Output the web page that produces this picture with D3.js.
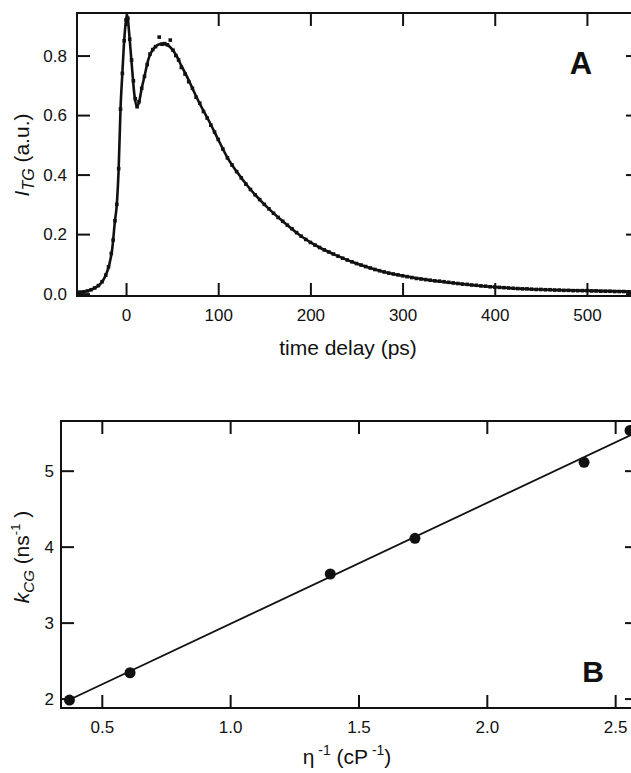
<!DOCTYPE html>
<html>
<head>
<meta charset="utf-8">
<script src="https://cdn.jsdelivr.net/npm/d3@7"></script>
<style>
  body { margin: 0; background: #fff; }
  svg { font-family: "Liberation Sans", Arial, Helvetica, sans-serif; }
  .tick text { font-size: 17px; fill: #111; }
  .tick line { stroke: #111; stroke-width: 2px; }
</style>
</head>
<body>
<svg width="631" height="773"></svg>
<script>
// panel A: transient grating signal vs time delay
var tData = [-50,-46,-42,-38,-34,-30,-26,-22,-19,-16,-14,-12,-10,-8,-6,-4,-2,0,2,4,
  6,8,10,12,14,17,20,23,26,29,32,36,39,42,45,48,51,54,57,60,
  64,68,72,76,80,84,88,92,96,100,
  105,110,115,120,125,130,135,140,145,150,155,160,165,170,175,180,185,190,195,200,
  205,210,215,220,225,230,235,240,245,250,255,260,265,270,275,280,285,290,295,300,
  305,310,315,320,325,330,335,340,345,350,355,360,365,370,375,380,385,390,395,400,
  405,410,415,420,425,430,435,440,445,450,455,460,465,470,475,480,485,490,495,500,
  505,510,515,520,525,530,535,540,545,550,555];
var iData = [0.005,0.006,0.009,0.013,0.019,0.027,0.04,0.062,0.09,0.135,0.18,0.245,0.30,0.42,0.62,0.74,0.85,0.92,0.925,0.855,
  0.785,0.715,0.655,0.628,0.645,0.69,0.73,0.77,0.805,0.82,0.83,0.862,0.838,0.84,0.836,0.852,0.818,0.80,0.785,0.76,
  0.738,0.712,0.69,0.66,0.64,0.612,0.59,0.566,0.543,0.518,
  0.486,0.456,0.432,0.41,0.389,0.368,0.35,0.332,0.316,0.30,0.285,0.27,0.256,0.243,0.23,0.218,0.205,0.193,0.182,0.172,
  0.163,0.155,0.147,0.14,0.133,0.126,0.119,0.113,0.107,0.101,0.096,0.091,0.086,0.081,0.077,0.073,0.069,0.066,0.063,0.06,
  0.057,0.054,0.051,0.049,0.047,0.045,0.043,0.042,0.04,0.038,0.036,0.034,0.032,0.031,0.029,0.028,0.026,0.025,0.023,0.022,
  0.021,0.02,0.019,0.018,0.017,0.016,0.016,0.015,0.014,0.014,0.013,0.013,0.012,0.012,0.011,0.011,0.01,0.01,0.01,0.01,
  0.009,0.009,0.008,0.008,0.008,0.007,0.007,0.007,0.006,0.006,0.006];

// fitted curve for panel A
var tFit = [-53,-46,-40,-34,-28,-22,-18,-15,-12,-10,-8,-6,-4,-2,0,1.5,3,5,7,9,
  11.5,14,17,20,24,28,32,36,40,44,48,52,56,60,66,72,80,90,100,110,
  120,135,150,170,190,210,230,250,275,300,330,360,400,450,500,556];
var iFit = [0.004,0.006,0.01,0.019,0.032,0.062,0.1,0.15,0.245,0.3,0.42,0.62,0.74,0.85,0.92,0.935,0.89,0.815,0.74,0.67,
  0.63,0.642,0.69,0.73,0.785,0.815,0.83,0.838,0.84,0.837,0.828,0.813,0.792,0.766,0.73,0.69,0.638,0.58,0.518,0.457,
  0.41,0.35,0.30,0.243,0.193,0.155,0.126,0.101,0.077,0.06,0.045,0.034,0.022,0.014,0.01,0.006];

var tTicks = [0,100,200,300,400,500];
var iTicks = [0,0.2,0.4,0.6,0.8];

// panel B: k_CG vs inverse viscosity
var etaInv = [0.374,0.61,1.39,1.72,2.379,2.558];
var kCG = [1.98,2.34,3.64,4.11,5.11,5.53];
var lineEta = [0.38,2.6];
var lineK = [1.995,5.53];
var etaTicks = [0.5,1.0,1.5,2.0,2.5];
var kTicks = [2,3,4,5];

var svg = d3.select('svg');
var tick = 13;

// ---------- panel A ----------
var boxA = {l: 77, r: 639, t: 13, b: 296};
var xA = d3.scaleLinear().domain([-53.2, 556.5]).range([boxA.l, boxA.r]);
var yA = d3.scaleLinear().domain([-0.008, 0.943]).range([boxA.b, boxA.t]);

var gA = svg.append('g');
gA.append('g').attr('transform','translate(0,'+boxA.b+')')
  .call(d3.axisBottom(xA).tickValues(tTicks).tickSize(-tick).tickPadding(10).tickSizeOuter(0))
  .call(function(g){ g.select('.domain').remove(); g.selectAll('text').attr('dy','0.9em'); });
gA.append('g').attr('transform','translate(0,'+boxA.t+')')
  .call(d3.axisTop(xA).tickValues(tTicks).tickSize(-tick).tickFormat('').tickSizeOuter(0))
  .call(function(g){ g.select('.domain').remove(); });
gA.append('g').attr('transform','translate('+boxA.l+',0)')
  .call(d3.axisLeft(yA).tickValues(iTicks).tickSize(-tick).tickPadding(10).tickFormat(d3.format('.1f')).tickSizeOuter(0))
  .call(function(g){ g.select('.domain').remove(); });
gA.append('g').attr('transform','translate('+boxA.r+',0)')
  .call(d3.axisRight(yA).tickValues(iTicks).tickSize(-tick).tickFormat('').tickSizeOuter(0))
  .call(function(g){ g.select('.domain').remove(); });

gA.append('rect')
  .attr('x',boxA.l).attr('y',boxA.t)
  .attr('width',boxA.r-boxA.l).attr('height',boxA.b-boxA.t)
  .style('fill','none').style('stroke','#111').style('stroke-width','2px');

var fitLine = d3.line()
  .x(function(d){ return xA(d[0]); })
  .y(function(d){ return yA(d[1]); })
  .curve(d3.curveMonotoneX);
gA.append('path')
  .datum(d3.zip(tFit, iFit))
  .attr('d', fitLine)
  .style('fill','none').style('stroke','#111').style('stroke-width','2.6px');

gA.selectAll('rect.pt')
  .data(d3.zip(tData, iData))
  .enter().append('rect')
  .attr('class','pt')
  .attr('x',function(d){ return xA(d[0])-1.8; })
  .attr('y',function(d){ return yA(d[1])-1.8; })
  .attr('width',3.6).attr('height',3.6)
  .style('fill','#111');

gA.append('text')
  .attr('text-anchor','middle')
  .attr('transform','translate(348,355)')
  .style('font-size','21px').style('fill','#111')
  .text('time delay (ps)');

var labA = gA.append('text')
  .attr('text-anchor','middle')
  .attr('transform','translate(29,155) rotate(-90)')
  .style('font-size','21px').style('fill','#111');
labA.append('tspan').style('font-style','italic').text('I');
labA.append('tspan').style('font-style','italic').style('font-size','16px').attr('dy',5).text('TG');
labA.append('tspan').attr('dy',-5).text(' (a.u.)');

gA.append('text')
  .attr('text-anchor','middle')
  .attr('transform','translate(581,74)')
  .style('font-size','31px').style('font-weight','bold').style('fill','#111')
  .text('A');

// ---------- panel B ----------
var boxB = {l: 61, r: 638, t: 421, b: 708};
var xB = d3.scaleLinear().domain([0.341, 2.589]).range([boxB.l, boxB.r]);
var yB = d3.scaleLinear().domain([1.876, 5.654]).range([boxB.b, boxB.t]);

var gB = svg.append('g');
gB.append('g').attr('transform','translate(0,'+boxB.b+')')
  .call(d3.axisBottom(xB).tickValues(etaTicks).tickSize(-tick).tickPadding(10).tickFormat(d3.format('.1f')).tickSizeOuter(0))
  .call(function(g){ g.select('.domain').remove(); g.selectAll('text').attr('dy','0.9em'); });
gB.append('g').attr('transform','translate(0,'+boxB.t+')')
  .call(d3.axisTop(xB).tickValues(etaTicks).tickSize(-tick).tickFormat('').tickSizeOuter(0))
  .call(function(g){ g.select('.domain').remove(); });
gB.append('g').attr('transform','translate('+boxB.l+',0)')
  .call(d3.axisLeft(yB).tickValues(kTicks).tickSize(-tick).tickPadding(7).tickFormat(d3.format('d')).tickSizeOuter(0))
  .call(function(g){ g.select('.domain').remove(); });
gB.append('g').attr('transform','translate('+boxB.r+',0)')
  .call(d3.axisRight(yB).tickValues(kTicks).tickSize(-tick).tickFormat('').tickSizeOuter(0))
  .call(function(g){ g.select('.domain').remove(); });

gB.append('rect')
  .attr('x',boxB.l).attr('y',boxB.t)
  .attr('width',boxB.r-boxB.l).attr('height',boxB.b-boxB.t)
  .style('fill','none').style('stroke','#111').style('stroke-width','2px');

gB.append('path')
  .datum(d3.zip(lineEta, lineK))
  .attr('d', d3.line().x(function(d){ return xB(d[0]); }).y(function(d){ return yB(d[1]); }))
  .style('fill','none').style('stroke','#111').style('stroke-width','1.8px');

gB.selectAll('circle')
  .data(d3.zip(etaInv, kCG))
  .enter().append('circle')
  .attr('cx',function(d){ return xB(d[0]); })
  .attr('cy',function(d){ return yB(d[1]); })
  .attr('r',5.5)
  .style('fill','#111');

var xlabB = gB.append('text')
  .attr('text-anchor','middle')
  .attr('transform','translate(347,764)')
  .style('font-size','21px').style('fill','#111');
xlabB.append('tspan').text('η');
xlabB.append('tspan').style('font-size','14px').attr('dy',-9).text(' -1');
xlabB.append('tspan').attr('dy',9).text(' (cP');
xlabB.append('tspan').style('font-size','14px').attr('dy',-9).text(' -1');
xlabB.append('tspan').attr('dy',9).text(')');

var ylabB = gB.append('text')
  .attr('text-anchor','middle')
  .attr('transform','translate(29,557) rotate(-90)')
  .style('font-size','21px').style('fill','#111');
ylabB.append('tspan').style('font-style','italic').text('k');
ylabB.append('tspan').style('font-style','italic').style('font-size','15px').attr('dy',5).text('CG');
ylabB.append('tspan').attr('dy',-5).text(' (ns');
ylabB.append('tspan').style('font-size','13px').attr('dy',-9).text('-1');
ylabB.append('tspan').attr('dy',9).text(' )');

gB.append('text')
  .attr('text-anchor','middle')
  .attr('transform','translate(593,682)')
  .style('font-size','30px').style('font-weight','bold').style('fill','#111')
  .text('B');
</script>
</body>
</html>
